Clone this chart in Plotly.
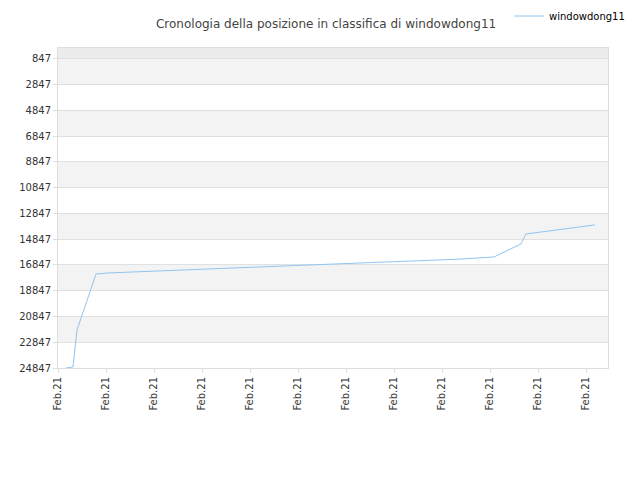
import plotly.graph_objects as go
import pandas as pd

BASE = pd.Timestamp("2021-02-01 00:00")

# hours since start, rank position
hours = [8, 15, 19, 38, 50, 100, 150, 200, 250, 300, 350, 400, 436, 463, 468, 500, 537]
ranks = [24847, 24770, 21895, 17546, 17468, 17300, 17150, 17000, 16850, 16700, 16550, 16400, 16226, 15215, 14439, 14100, 13740]
tick_vals = [847 + 2000 * i for i in range(13)]

dates = [BASE + pd.Timedelta(hours=h) for h in hours]
tick_dates = [BASE + pd.Timedelta(hours=48 * i) for i in range(12)]

fig = go.Figure()
fig.add_trace(go.Scatter(x=dates, y=ranks, mode="lines", name="windowdong11",
                         line=dict(color="#90c4f0", width=1)))

# alternating bands
shapes = [dict(type="rect", xref="paper", x0=0, x1=1, yref="y", y0=0, y1=847,
               fillcolor="#ececec", line_width=0, layer="below")]
for i in range(12):
    if i % 2 == 0:
        shapes.append(dict(type="rect", xref="paper", x0=0, x1=1, yref="y",
                           y0=tick_vals[i], y1=tick_vals[i + 1],
                           fillcolor="#f3f3f3", line_width=0, layer="below"))

fig.update_layout(
    width=640, height=480,
    title=dict(text="Cronologia della posizione in classifica di windowdong11",
               x=0.497, xanchor="center", y=0.975, font=dict(size=12, color="#444")),
    font=dict(family="DejaVu Sans", size=10, color="#333"),
    plot_bgcolor="white", paper_bgcolor="white",
    margin=dict(l=50, r=40, t=40, b=120, autoexpand=False),
    showlegend=True,
    legend=dict(x=1.04, y=1.1, xanchor="right", yanchor="middle", orientation="h",
                font=dict(size=10, color="#000"), bgcolor="rgba(0,0,0,0)"),
    shapes=shapes,
)
fig.update_xaxes(range=[BASE, BASE + pd.Timedelta(hours=550)],
                 tickvals=tick_dates, ticktext=["Feb.21"] * len(tick_dates),
                 tickangle=-90, showgrid=False, showline=True, linecolor="#ddd",
                 mirror=True, ticks="outside", ticklen=4, tickcolor="#ddd",
                 automargin=False)
fig.update_yaxes(range=[24847, 0], tickvals=tick_vals,
                 ticktext=[str(v) for v in tick_vals],
                 showgrid=True, gridcolor="#e0e0e0", zeroline=False,
                 showline=True, linecolor="#ddd", mirror=True,
                 ticks="outside", ticklen=4, tickcolor="#ddd", automargin=False)

fig.write_html("out.html")
